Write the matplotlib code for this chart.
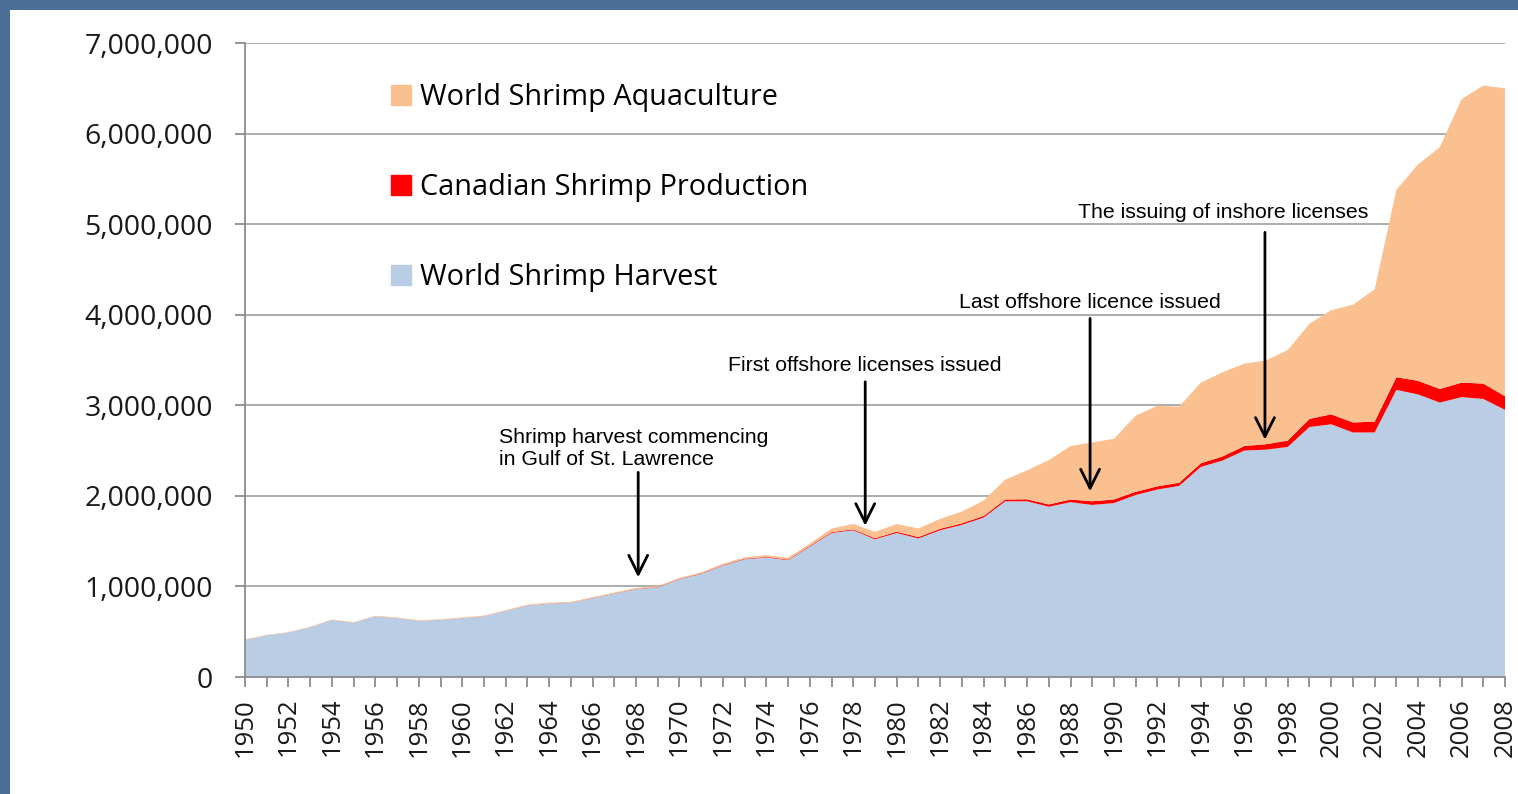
import matplotlib
matplotlib.use('Agg')
import matplotlib.pyplot as plt
from matplotlib.patches import Rectangle, Patch
from matplotlib.ticker import FuncFormatter

# Years on the x axis
years = list(range(1950, 2009))

# World shrimp harvest (tonnes)
harvest = [410000, 460000, 490000, 550000, 630000, 600000, 670000, 650000, 620000, 630000,
           650000, 670000, 730000, 790000, 810000, 820000, 870000, 920000, 970000, 990000,
           1080000, 1140000, 1230000, 1300000, 1320000, 1290000, 1440000, 1590000, 1620000, 1520000,
           1590000, 1530000, 1620000, 1680000, 1760000, 1940000, 1940000, 1880000, 1930000, 1900000,
           1920000, 2010000, 2070000, 2110000, 2320000, 2390000, 2500000, 2510000, 2540000, 2760000,
           2790000, 2700000, 2700000, 3170000, 3120000, 3030000, 3090000, 3070000, 2950000]

# Canadian shrimp production (tonnes)
canada = [500, 500, 500, 600, 600, 700, 700, 800, 800, 900,
          1000, 1000, 1200, 1500, 1800, 2000, 2500, 3000, 3500, 4000,
          4500, 5000, 5500, 6000, 6500, 7000, 8000, 9000, 10000, 12000,
          14000, 15000, 16000, 17000, 18000, 20000, 22000, 25000, 30000, 40000,
          40000, 35000, 35000, 35000, 40000, 45000, 50000, 60000, 70000, 90000,
          110000, 110000, 120000, 140000, 150000, 150000, 160000, 170000, 150000]

# World shrimp aquaculture (tonnes)
aquaculture = [5000, 5000, 5000, 5000, 5000, 5000, 6000, 6000, 6000, 6000,
               7000, 7000, 7000, 8000, 8000, 8000, 9000, 9000, 10000, 10000,
               10000, 10000, 15000, 15000, 20000, 20000, 25000, 40000, 60000, 70000,
               85000, 95000, 110000, 130000, 170000, 220000, 320000, 490000, 590000, 650000,
               670000, 840000, 890000, 840000, 890000, 930000, 910000, 925000, 1000000, 1050000,
               1150000, 1300000, 1460000, 2070000, 2390000, 2670000, 3130000, 3290000, 3400000]

labels = ['World Shrimp Harvest', 'Canadian Shrimp Production', 'World Shrimp Aquaculture']
colors = ['#b9cde5', '#ff0000', '#fac090']

# Annotations: (text, x of arrow, arrow tail, arrow tip, text x, text y, alignment)
notes = [
    ('Shrimp harvest commencing\nin Gulf of St. Lawrence', 1968.1, 2290000, 1070000, 1961.7, 2520000, 'left'),
    ('First offshore licenses issued', 1978.55, 3290000, 1640000, 1978.55, 3434000, 'center'),
    ('Last offshore licence issued', 1988.9, 3990000, 2020000, 1988.9, 4140000, 'center'),
    ('The issuing of inshore licenses', 1996.95, 4940000, 2590000, 1995.03, 5134000, 'center'),
]

fig = plt.figure(figsize=(15.18, 7.94), dpi=100)
fig.patch.set_facecolor('#4a6e96')
# white slide area, leaving a thin blue border at the top and left
fig.add_artist(Rectangle((10 / 1518, 0), 1, 1 - 10 / 794, transform=fig.transFigure,
                         facecolor='white', edgecolor='none', zorder=0))

ax = fig.add_axes([245 / 1518, 1 - 677 / 794, 1260 / 1518, 634 / 794])
ax.set_facecolor('none')

ax.stackplot(years, harvest, canada, aquaculture, colors=colors, labels=labels, lw=0)

ax.set_xlim(1950, 2008)
ax.set_ylim(0, 7000000)
ax.set_yticks(range(0, 7000001, 1000000))
ax.yaxis.set_major_formatter(FuncFormatter(lambda v, p: f'{int(v):,}'))
ax.set_xticks(years)
ax.set_xticklabels([str(y) if y % 2 == 0 else '' for y in years], rotation=90)

ax.set_axisbelow(True)
ax.grid(axis='y', color='#a6a6a6', lw=1.3)
for s in ['top', 'right']:
    ax.spines[s].set_visible(False)
for s in ['left', 'bottom']:
    ax.spines[s].set_color('#8c8c8c')
    ax.spines[s].set_linewidth(1.3)
    ax.spines[s].set_zorder(5)

ax.tick_params(axis='y', length=7, width=1.3, color='#8c8c8c', pad=16,
               labelsize=20.5, labelcolor='#1a1a1a')
ax.tick_params(axis='x', length=7, width=1.3, color='#8c8c8c', pad=8,
               labelsize=18.5, labelcolor='#1a1a1a')
for lab in ax.get_xticklabels() + ax.get_yticklabels():
    lab.set_fontfamily('Open Sans')

# Legend, aquaculture first
handles = [Patch(color=colors[i], label=labels[i]) for i in [2, 1, 0]]
ax.legend(handles=handles, loc='upper left', bbox_to_anchor=(0.116, 0.937), frameon=False,
          prop={'family': 'Open Sans', 'size': 20.8}, labelspacing=2.12, handlelength=0.68,
          handleheight=0.68, handletextpad=0.33, borderpad=0, borderaxespad=0)

# Arrows and their notes
for text, x, tail, tip, tx, ty, ha in notes:
    ax.annotate('', xy=(x, tip), xytext=(x, tail),
                arrowprops=dict(arrowstyle='->', lw=2, color='black', mutation_scale=34))
    ax.text(tx, ty, text, ha=ha, va='center', fontsize=15.3, family='Liberation Sans',
            linespacing=1.2)

plt.savefig('out.png', dpi=100, facecolor=fig.get_facecolor())
